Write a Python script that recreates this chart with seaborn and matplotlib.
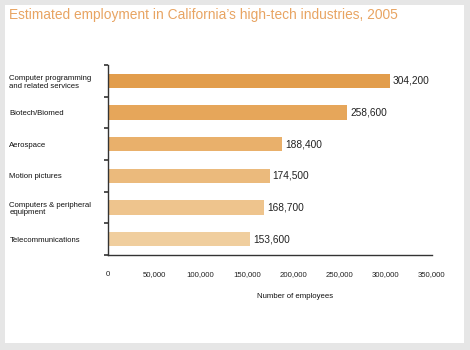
import matplotlib
matplotlib.use("Agg")
import matplotlib.pyplot as plt
from matplotlib.patches import Rectangle
import seaborn as sns
import pandas as pd

industries = [
    "Computer programming\nand related services",
    "Biotech/Biomed",
    "Aerospace",
    "Motion pictures",
    "Computers & peripheral\nequipment",
    "Telecommunications",
]
employees = [304200, 258600, 188400, 174500, 168700, 153600]
value_labels = ["304,200", "258,600", "188,400", "174,500", "168,700", "153,600"]
xticks = [0, 50000, 100000, 150000, 200000, 250000, 300000, 350000]
xtick_labels = ["0", "50,000", "100,000", "150,000", "200,000", "250,000", "300,000", "350,000"]
bar_colors = ["#E29D4C", "#E6A65A", "#E9B06B", "#EBBA7C", "#EEC48D", "#F0CE9E"]

sns.set_theme(style="white")
plt.rcParams["font.family"] = ["Liberation Sans", "DejaVu Sans"]

df = pd.DataFrame({"industry": industries, "employees": employees})

fig = plt.figure(figsize=(4.7, 3.5), dpi=100)
fig.patch.set_facecolor("#E6E6E6")
fig.add_artist(Rectangle((5 / 470, 7 / 350), 459 / 470, 338 / 350,
                         transform=fig.transFigure, facecolor="white",
                         edgecolor="none", zorder=0))
ax = fig.add_axes([108 / 470, 95 / 350, 324 / 470, 190 / 350])
ax.set_facecolor("none")

sns.barplot(data=df, x="employees", y="industry", hue="industry",
            palette=bar_colors, legend=False, width=0.45, ax=ax,
            saturation=1, edgecolor="none")

ax.set_xlim(0, 350000)
ax.set_ylim(5.5, -0.5)
for sp in ["top", "right"]:
    ax.spines[sp].set_visible(False)
for sp in ["left", "bottom"]:
    ax.spines[sp].set_color("#333333")
    ax.spines[sp].set_linewidth(1.0)

ax.set_xticks(xticks)
ax.set_xticklabels(xtick_labels, fontsize=5.6, color="#222222")
ax.tick_params(axis="x", direction="inout", length=5, width=0.8, color="#333333", pad=9)

ax.set_yticks(range(len(industries)))
ax.set_yticklabels(industries, fontsize=5.6, color="#111111", ha="left",
                   linespacing=1.15)
ax.tick_params(axis="y", which="major", length=0, pad=71)
ax.set_yticks([i - 0.5 for i in range(len(industries) + 1)], minor=True)
ax.tick_params(axis="y", which="minor", direction="out", length=3, width=1.2, color="#333333", left=True)

for i, (v, lab) in enumerate(zip(employees, value_labels)):
    ax.text(v + 3000, i, lab, va="center", ha="left", fontsize=7.3, color="#222222")

ax.set_xlabel("Number of employees", fontsize=5.6, color="#111111")
ax.xaxis.set_label_coords(0.577, -0.2)
ax.set_ylabel("")

fig.text(9 / 470, 1 - 15 / 350, "Estimated employment in California\u2019s high-tech industries, 2005",
         fontsize=9.9, color="#E8A462", ha="left", va="center")

fig.savefig("out.png", dpi=100, facecolor=fig.get_facecolor())
